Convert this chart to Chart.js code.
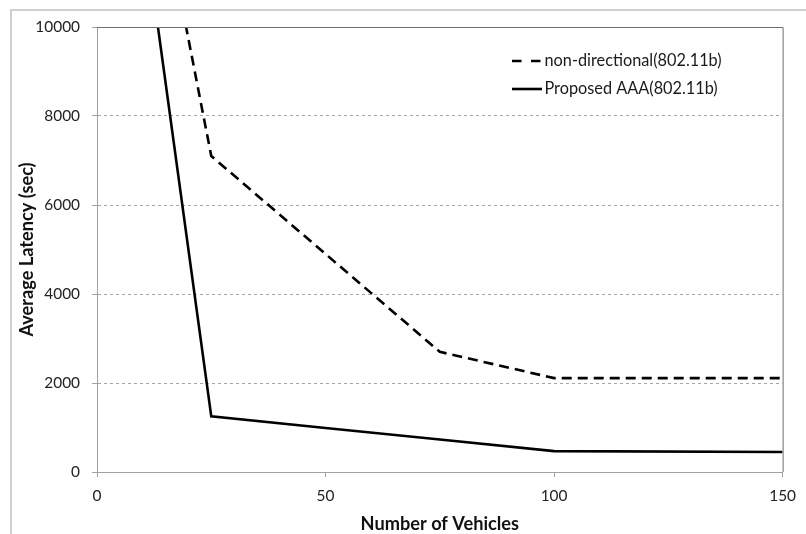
<!DOCTYPE html>
<html>
<head>
<meta charset="utf-8">
<script src="https://cdn.jsdelivr.net/npm/chart.js@4/dist/chart.umd.min.js"></script>
<style>
  html, body { margin: 0; padding: 0; background: #ffffff; }
  #wrap { width: 806px; height: 534px; }
</style>
</head>
<body>
<div id="wrap"><canvas id="c" width="806" height="534"></canvas></div>
<script>
// ---- data ----
const vehicles = [10, 25, 50, 75, 100, 150];
const nonDirectional = [15000, 7100, 4900, 2700, 2110, 2110];
const proposedAAA = [12500, 1250, 990, 730, 470, 450];
const seriesLabels = ['non-directional(802.11b)', 'Proposed AAA(802.11b)'];
const xTickValues = [0, 50, 100, 150];
const yTickValues = [0, 2000, 4000, 6000, 8000, 10000];
const xTitle = 'Number of Vehicles';
const yTitle = 'Average Latency (sec)';

const FONT = 'Lato, "Noto Sans", sans-serif';
const toPoints = (xs, ys) => xs.map((x, i) => ({ x: x, y: ys[i] }));

const framePlugin = {
  id: 'frame',
  beforeDraw(chart) {
    const ctx = chart.ctx;
    ctx.save();
    ctx.fillStyle = '#ffffff';
    ctx.fillRect(0, 0, chart.width, chart.height);
    ctx.fillStyle = '#cfcfcf';
    ctx.fillRect(11, 9, chart.width - 11, 2);
    ctx.fillRect(10, 9, 2, chart.height - 9);
    ctx.restore();
  },
  afterDraw(chart) {
    const ctx = chart.ctx;
    const a = chart.chartArea;
    ctx.save();
    ctx.lineWidth = 1;
    ctx.strokeStyle = '#6f6f6f';
    ctx.beginPath();
    ctx.moveTo(a.left, a.top + 0.5);
    ctx.lineTo(a.right + 0.5, a.top + 0.5);
    ctx.lineTo(a.right + 0.5, a.bottom);
    ctx.stroke();
    ctx.restore();
  }
};

const legendPlugin = {
  id: 'inlineLegend',
  afterDraw(chart) {
    const ctx = chart.ctx;
    const rows = [61, 89];
    ctx.save();
    chart.data.datasets.forEach((ds, i) => {
      const y = rows[i];
      ctx.strokeStyle = ds.borderColor;
      ctx.lineWidth = ds.borderWidth;
      ctx.setLineDash(ds.borderDash && ds.borderDash.length ? [9.5, 9.5] : []);
      ctx.beginPath();
      ctx.moveTo(512, y);
      ctx.lineTo(542, y);
      ctx.stroke();
      ctx.setLineDash([]);
      ctx.fillStyle = '#1a1a1a';
      ctx.font = '16.3px ' + FONT;
      ctx.textBaseline = 'middle';
      ctx.textAlign = 'left';
      ctx.fillText(ds.label, 544.5, y);
    });
    ctx.restore();
  }
};

new Chart(document.getElementById('c'), {
  type: 'line',
  data: {
    datasets: [
      {
        label: seriesLabels[0],
        data: toPoints(vehicles, nonDirectional),
        borderColor: '#000000',
        borderWidth: 2.6,
        borderDash: [10, 6],
        pointRadius: 0,
        tension: 0,
        fill: false
      },
      {
        label: seriesLabels[1],
        data: toPoints(vehicles, proposedAAA),
        borderColor: '#000000',
        borderWidth: 2.6,
        pointRadius: 0,
        tension: 0,
        fill: false
      }
    ]
  },
  options: {
    responsive: false,
    devicePixelRatio: 1,
    animation: false,
    layout: { padding: { left: 0, right: 23, top: 27, bottom: 0 } },
    plugins: {
      legend: { display: false },
      tooltip: { enabled: false }
    },
    scales: {
      x: {
        type: 'linear',
        min: 0,
        max: 150,
        afterBuildTicks(scale) { scale.ticks = xTickValues.map(v => ({ value: v })); },
        afterFit(scale) { scale.height = 62; },
        ticks: {
          color: '#222222',
          font: { family: FONT, size: 15.4 },
          padding: 10,
          maxRotation: 0,
          callback: (v) => String(v)
        },
        grid: {
          drawOnChartArea: false,
          drawTicks: true,
          tickLength: 5,
          tickColor: '#a0a0a0',
          tickWidth: 1
        },
        border: { display: true, color: '#a0a0a0', width: 1 },
        title: {
          display: true,
          text: xTitle,
          color: '#111111',
          font: { family: FONT, size: 18.2, weight: 'bold', lineHeight: 1.1 },
          padding: { top: 0, bottom: 0 }
        }
      },
      y: {
        type: 'linear',
        min: 0,
        max: 10000,
        afterBuildTicks(scale) { scale.ticks = yTickValues.map(v => ({ value: v })); },
        afterFit(scale) { scale.width = 97; },
        ticks: {
          color: '#222222',
          font: { family: FONT, size: 15.4 },
          padding: 12,
          callback: (v) => String(v)
        },
        grid: {
          color: (c) => (c.tick && (c.tick.value === 0 || c.tick.value === 10000)) ? 'rgba(0,0,0,0)' : '#a6a6a6',
          lineWidth: 1,
          drawTicks: true,
          tickLength: 5,
          tickColor: '#a0a0a0',
          tickWidth: 1,
          tickBorderDash: []
        },
        border: { display: true, color: '#a0a0a0', width: 1, dash: [3, 3] },
        title: {
          display: true,
          text: yTitle,
          color: '#111111',
          font: { family: FONT, size: 18.2, weight: 'bold', lineHeight: 1.1 },
          padding: { top: 17, bottom: 0 }
        }
      }
    }
  },
  plugins: [framePlugin, legendPlugin]
});
</script>
</body>
</html>
